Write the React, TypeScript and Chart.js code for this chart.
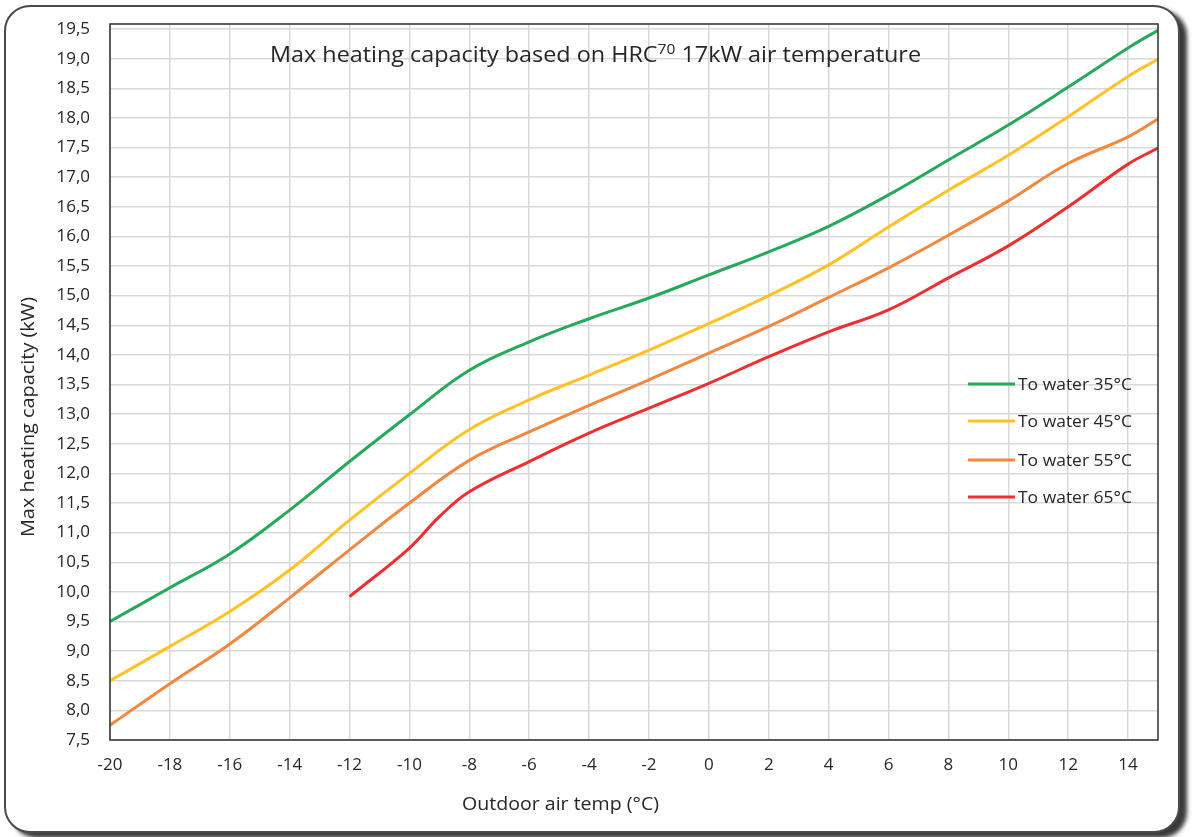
import React, { useEffect, useRef } from 'react';
import { Chart, registerables } from 'chart.js';

Chart.register(...registerables);

// ---- data ----
const temps = [-20, -18, -16, -14, -12, -10, -8, -6, -4, -2, 0, 2, 4, 6, 8, 10, 12, 14, 15];
const water35 = [9.5, 10.07, 10.64, 11.38, 12.2, 12.99, 13.74, 14.22, 14.61, 14.96, 15.35, 15.74, 16.17, 16.7, 17.29, 17.88, 18.52, 19.18, 19.48];
const water45 = [8.5, 9.08, 9.67, 10.37, 11.21, 12.0, 12.74, 13.24, 13.66, 14.08, 14.53, 15.0, 15.52, 16.16, 16.78, 17.37, 18.02, 18.7, 18.99];
const water55 = [7.75, 8.45, 9.12, 9.9, 10.71, 11.5, 12.22, 12.7, 13.15, 13.58, 14.03, 14.48, 14.97, 15.47, 16.02, 16.6, 17.23, 17.68, 17.98];
const temps65 = [-12, -10, -9, -8, -6, -4, -2, 0, 2, 4, 6, 8, 10, 12, 14, 15];
const water65 = [9.92, 10.74, 11.27, 11.69, 12.2, 12.68, 13.1, 13.52, 13.97, 14.39, 14.76, 15.3, 15.84, 16.5, 17.22, 17.49];

const seriesLabels = ['To water 35°C', 'To water 45°C', 'To water 55°C', 'To water 65°C'];
const seriesColors = ['#25A95B', '#FFC124', '#F2883F', '#EE2E30'];

const titleMain = 'Max heating capacity based on HRC';
const titleSup = '70';
const titleEnd = ' 17kW air temperature';
const xTitle = 'Outdoor air temp (°C)';
const yTitle = 'Max heating capacity (kW)';

const xMin = -20;
const xMax = 15;
const xStep = 2;
const yMin = 7.5;
const yMax = 19.585;
const yStep = 0.5;

const FONT = "'Open Sans', sans-serif";
const TEXT = '#262626';

function fitText(ctx: CanvasRenderingContext2D, text: string, x: number, y: number, width: number) {
  const w = ctx.measureText(text).width;
  ctx.save();
  ctx.translate(x, y);
  ctx.scale(width / w, 1);
  ctx.fillText(text, 0, 0);
  ctx.restore();
}

const decor = {
  id: 'decor',
  afterDraw(chart: any) {
    const { ctx, chartArea: a } = chart;
    ctx.save();
    // plot border
    ctx.strokeStyle = '#3a3a3a';
    ctx.lineWidth = 1.6;
    ctx.strokeRect(a.left, a.top, a.right - a.left, a.bottom - a.top);

    ctx.fillStyle = TEXT;
    ctx.textBaseline = 'alphabetic';
    ctx.textAlign = 'left';

    // title with superscript
    ctx.font = `21px ${FONT}`;
    const w1 = ctx.measureText(titleMain).width;
    const w3 = ctx.measureText(titleEnd).width;
    ctx.font = `14px ${FONT}`;
    const w2 = ctx.measureText(titleSup).width;
    const total = w1 + w2 + w3;
    const sx = 651 / total;
    ctx.save();
    ctx.translate(270, 62);
    ctx.scale(sx, 1);
    ctx.font = `21px ${FONT}`;
    ctx.fillText(titleMain, 0, 0);
    ctx.font = `14px ${FONT}`;
    ctx.fillText(titleSup, w1, -8);
    ctx.font = `21px ${FONT}`;
    ctx.fillText(titleEnd, w1 + w2, 0);
    ctx.restore();

    // legend
    const legendY = [384, 421, 460, 497];
    ctx.font = `17px ${FONT}`;
    ctx.textBaseline = 'middle';
    seriesLabels.forEach((lab, i) => {
      ctx.strokeStyle = seriesColors[i];
      ctx.lineWidth = 3;
      ctx.beginPath();
      ctx.moveTo(968, legendY[i]);
      ctx.lineTo(1015, legendY[i]);
      ctx.stroke();
      fitText(ctx, lab, 1018, legendY[i] + 1, 114);
    });

    // axis titles
    ctx.font = `18px ${FONT}`;
    ctx.textBaseline = 'alphabetic';
    fitText(ctx, xTitle, 462, 810, 197);
    ctx.save();
    ctx.translate(34, 537);
    ctx.rotate(-Math.PI / 2);
    fitText(ctx, yTitle, 0, 0, 240);
    ctx.restore();

    ctx.restore();
  },
};

export default function App() {
  const ref = useRef<HTMLCanvasElement | null>(null);

  useEffect(() => {
    const canvas = ref.current;
    if (!canvas) return;
    const mk = (xs: number[], ys: number[]) => xs.map((x, i) => ({ x, y: ys[i] }));
    const allY = [water35, water45, water55, water65];
    const allX = [temps, temps, temps, temps65];
    const chart = new Chart(canvas, {
      type: 'line',
      data: {
        datasets: seriesLabels.map((label, i) => ({
          label,
          data: mk(allX[i], allY[i]),
          borderColor: seriesColors[i],
          backgroundColor: seriesColors[i],
          borderWidth: 3,
          pointRadius: 0,
          tension: 0.4,
          fill: false,
        })),
      },
      options: {
        responsive: false,
        animation: false,
        devicePixelRatio: 1,
        layout: { padding: { left: 0, top: 24, right: 34, bottom: 0 } },
        plugins: {
          legend: { display: false },
          tooltip: { enabled: false },
          title: { display: false },
        },
        scales: {
          x: {
            type: 'linear',
            min: xMin,
            max: xMax,
            afterFit: (s: any) => { s.height = 97; },
            border: { display: false },
            grid: { color: '#d9d9d9', lineWidth: 1.5, drawTicks: false },
            ticks: {
              stepSize: xStep,
              includeBounds: false,
              autoSkip: false,
              maxRotation: 0,
              padding: 15,
              color: TEXT,
              font: { family: FONT, size: 17 },
            },
          },
          y: {
            type: 'linear',
            min: yMin,
            max: yMax,
            afterFit: (s: any) => { s.width = 110; },
            border: { display: false },
            grid: {
              color: '#d9d9d9',
              lineWidth: 1.5,
              drawTicks: true,
              tickLength: 20,
              tickColor: 'rgba(0,0,0,0)',
            },
            ticks: {
              stepSize: yStep,
              includeBounds: false,
              autoSkip: false,
              padding: 0,
              color: TEXT,
              font: { family: FONT, size: 17 },
              callback: (v: any) => Number(v).toFixed(1).replace('.', ','),
            },
          },
        },
      },
      plugins: [decor],
    });
    return () => chart.destroy();
  }, []);

  return (
    <div style={{ position: 'fixed', left: 0, top: 0, width: 1192, height: 837, background: '#fff', overflow: 'hidden' }}>
      <div
        style={{
          position: 'absolute',
          left: 4,
          top: 5,
          width: 1176,
          height: 828,
          boxSizing: 'border-box',
          border: '2px solid #4a4a4a',
          borderRadius: 26,
          boxShadow: '7px 5px 4px #3a3a3a',
          background: '#fff',
        }}
      />
      <canvas ref={ref} width={1192} height={837} style={{ position: 'absolute', left: 0, top: 0 }} />
    </div>
  );
}
